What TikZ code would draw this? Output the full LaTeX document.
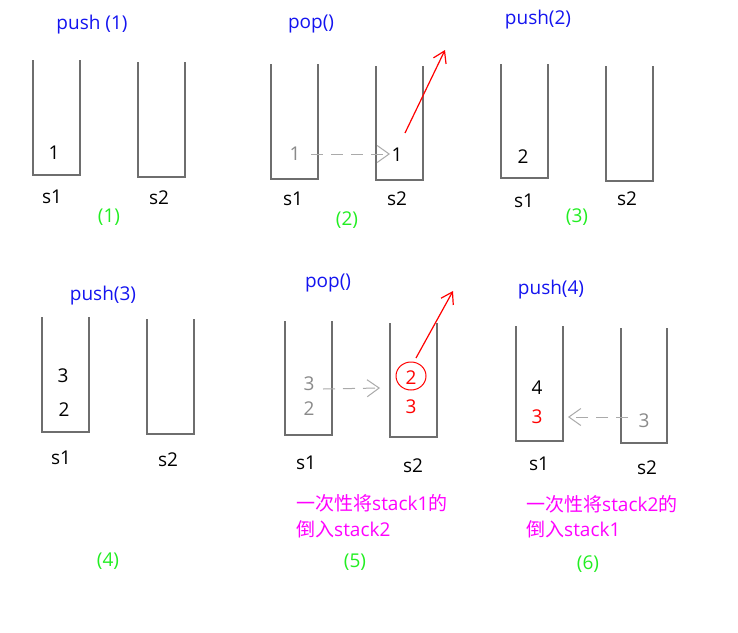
\documentclass[tikz,border=0pt]{standalone}
\usepackage{fontspec}
\setmainfont{Open Sans}
\newfontfamily\cjk{Noto Sans CJK SC}
\usetikzlibrary{arrows.meta,shapes.geometric}
\definecolor{stkgray}{HTML}{6E6E6E}
\definecolor{txtgray}{HTML}{8A8A8A}
\definecolor{arrgray}{HTML}{AAAAAA}
\definecolor{opblue}{HTML}{1414F0}
\definecolor{stepgreen}{HTML}{22EE22}
\definecolor{notemag}{HTML}{FF00FF}
\tikzset{
  stk/.style={draw=stkgray, line width=2pt},
  txt/.style={anchor=base, inner sep=0pt, font=\fontsize{19}{22}\selectfont},
  optxt/.style={txt, text=opblue},
  steptxt/.style={txt, text=stepgreen},
  gtxt/.style={txt, text=txtgray},
  rtxt/.style={txt, text=red},
  note/.style={anchor=base west, inner sep=0pt, text=notemag, font=\fontsize{19}{22}\selectfont},
  movearrow/.style={draw=arrgray, line width=1pt, dash pattern=on 12pt off 8pt, -{Straight Barb[length=12pt,width=17pt]}},
  poparrow/.style={draw=red, line width=1.2pt, -{Straight Barb[length=11pt,width=14pt]}},
}
\begin{document}
\begin{tikzpicture}[x=1pt,y=-1pt]
\useasboundingbox[fill=white] (0,0) rectangle (738,632);

% ---------- panel 1 ----------
\draw[stk] (33,60) |- (80,175) -- (80,60);
\draw[stk] (138,62) |- (185,177) -- (185,62);
\node[optxt] (p1op) at (92,29) {push (1)};
\node[txt] (p1a) at (54,159) {1};
\node[txt] (p1s1) at (52,203) {s1};
\node[txt] (p1s2) at (159,204) {s2};
\node[steptxt] (p1n) at (109,222) {(1)};

% ---------- panel 2 ----------
\draw[stk] (271,64) |- (318,179) -- (318,64);
\draw[stk] (376,66) |- (423,180) -- (423,66);
\node[optxt] (p2op) at (311,28) {pop()};
\node[gtxt] (p2g) at (295,160) {1};
\node[txt] (p2b) at (397,161) {1};
\node[txt] (p2s1) at (293,205) {s1};
\node[txt] (p2s2) at (397,205) {s2};
\node[steptxt] (p2n) at (347,225) {(2)};
\coordinate (p2from) at (311,154);
\coordinate (p2to) at (390,154);
\draw[movearrow] (p2from) -- (p2to);
\coordinate (p2out) at (445,50);
\coordinate (p2start) at (405,133);
\draw[poparrow] (p2start) -- (p2out);

% ---------- panel 3 ----------
\draw[stk] (501,64) |- (548,178) -- (548,64);
\draw[stk] (606,66) |- (653,181) -- (653,66);
\node[optxt] (p3op) at (538,24) {push(2)};
\node[txt] (p3a) at (523,163) {2};
\node[txt] (p3s1) at (524,207) {s1};
\node[txt] (p3s2) at (627,205) {s2};
\node[steptxt] (p3n) at (577,222) {(3)};

% ---------- panel 4 ----------
\draw[stk] (42,317) |- (89,432) -- (89,317);
\draw[stk] (147,319) |- (194,434) -- (194,319);
\node[optxt] (p4op) at (103,300) {push(3)};
\node[txt] (p4a) at (63,382) {3};
\node[txt] (p4b) at (64,416) {2};
\node[txt] (p4s1) at (61,464) {s1};
\node[txt] (p4s2) at (168,466) {s2};
\node[steptxt] (p4n) at (108,566) {(4)};

% ---------- panel 5 ----------
\draw[stk] (285,321) |- (332,435) -- (332,321);
\draw[stk] (390,323) |- (437,437) -- (437,323);
\node[optxt] (p5op) at (328,287) {pop()};
\node[gtxt] (p5g3) at (309,390) {3};
\node[gtxt] (p5g2) at (309,415) {2};
\node[rtxt] (p5r2) at (411,384) {2};
\node[rtxt] (p5r3) at (411,413) {3};
\node[draw=red, line width=1pt, ellipse, minimum width=30pt, minimum height=28pt, inner sep=0pt] (p5circ) at (411,376) {};
\node[txt] (p5s1) at (306,469) {s1};
\node[txt] (p5s2) at (413,472) {s2};
\node[note] (p5l1) at (296,510) {{\cjk 一次性将}stack1{\cjk 的}};
\node[note] (p5l2) at (296,536) {{\cjk 倒入}stack2};
\node[steptxt] (p5n) at (355,567) {(5)};
\coordinate (p5from) at (323,389);
\coordinate (p5to) at (380,388);
\draw[movearrow] (p5from) -- (p5to);
\coordinate (p5out) at (453,291);
\coordinate (p5start) at (416,358);
\draw[poparrow] (p5start) -- (p5out);

% ---------- panel 6 ----------
\draw[stk] (516,326) |- (563,441) -- (563,326);
\draw[stk] (621,328) |- (667,443) -- (667,328);
\node[optxt] (p6op) at (551,294) {push(4)};
\node[txt] (p6a) at (537,394) {4};
\node[rtxt] (p6b) at (537,423) {3};
\node[gtxt] (p6g) at (644,427) {3};
\node[txt] (p6s1) at (539,470) {s1};
\node[txt] (p6s2) at (647,474) {s2};
\node[note] (p6l1) at (526,511) {{\cjk 一次性将}stack2{\cjk 的}};
\node[note] (p6l2) at (526,536) {{\cjk 倒入}stack1};
\node[steptxt] (p6n) at (588,569) {(6)};
\coordinate (p6from) at (628,417);
\coordinate (p6to) at (568,417);
\draw[movearrow] (p6from) -- (p6to);
\end{tikzpicture}
\end{document}
